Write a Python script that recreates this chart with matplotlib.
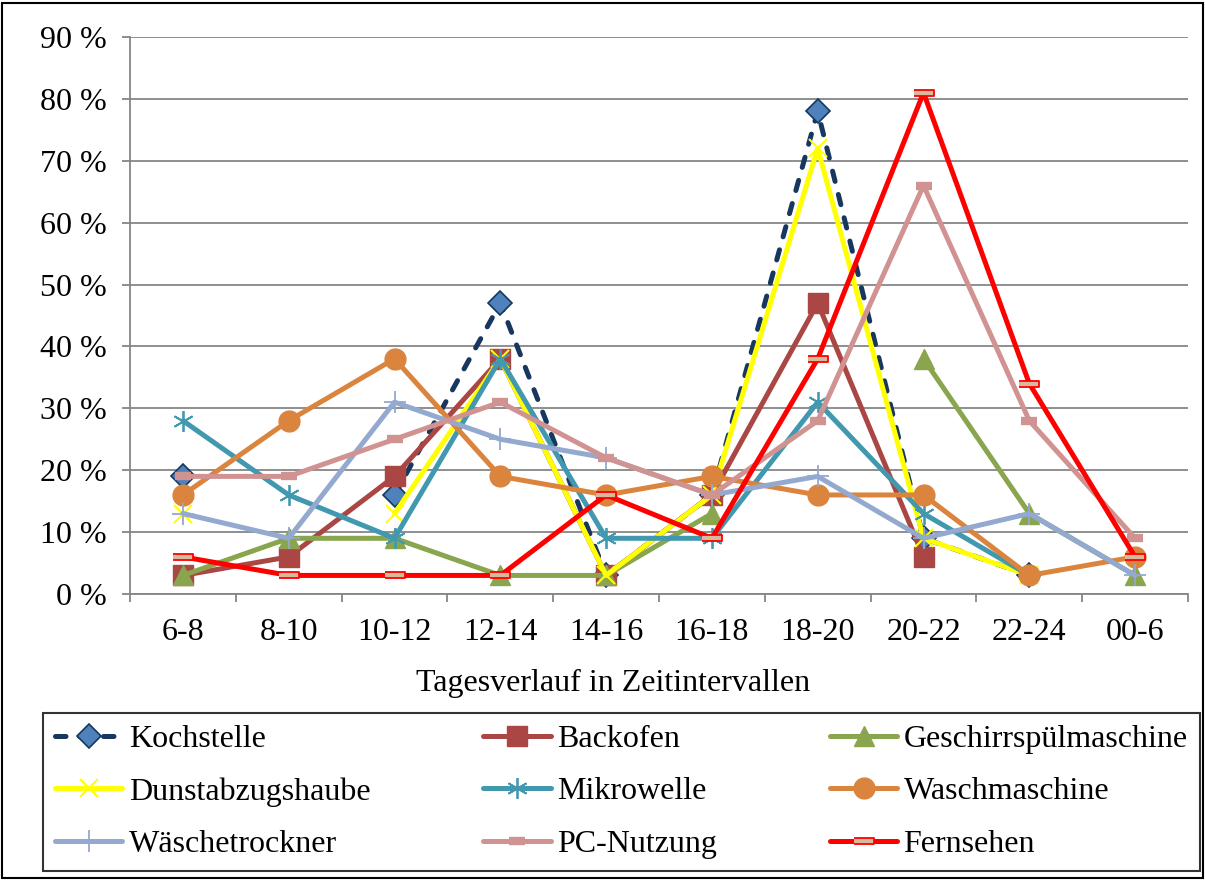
import matplotlib
matplotlib.use("Agg")
import matplotlib.pyplot as plt
import numpy as np
from matplotlib.patches import Rectangle

plt.rcParams['font.family'] = ['Liberation Serif', 'DejaVu Serif']

# time intervals and usage share in percent (NaN = no value)
intervals = ["6-8", "8-10", "10-12", "12-14", "14-16", "16-18", "18-20", "20-22", "22-24", "00-6"]
nan = np.nan
kochstelle = [19, nan, 16, 47, 3, 16, 78, 9, 3, nan]
backofen = [3, 6, 19, 38, 3, 16, 47, 6, nan, nan]
geschirr = [3, 9, 9, 3, 3, 13, nan, 38, 13, 3]
dunstabzug = [13, nan, 13, 38, 3, 16, 72, 9, 3, nan]
mikrowelle = [28, 16, 9, 38, 9, 9, 31, 13, 3, nan]
waschmaschine = [16, 28, 38, 19, 16, 19, 16, 16, 3, 6]
trockner = [13, 9, 31, 25, 22, 16, 19, 9, 13, 3]
pc = [19, 19, 25, 31, 22, 16, 28, 66, 28, 9]
fernsehen = [6, 3, 3, 3, 16, 9, 38, 81, 34, 6]
y_ticks = [0, 10, 20, 30, 40, 50, 60, 70, 80, 90]

grey = "#868686"
fs = 23
x = np.arange(len(intervals))
bar_marker = [(-1, -0.28), (1, -0.28), (1, 0.28), (-1, 0.28)]

fig = plt.figure(figsize=(12.05, 8.8), dpi=100)
ax = fig.add_axes([0.1079, 0.325, 0.878, 0.633])

lw = 3.6
h = {}
h['Kochstelle'] = ax.plot(x, kochstelle, color="#17375E", lw=lw, dashes=(2.1, 2.7),
                          dash_capstyle='round', marker='D', ms=12,
                          mfc="#4F81BD", mec="#17375E", mew=1.2, zorder=3)[0]
h['Backofen'] = ax.plot(x, backofen, color="#AA4643", lw=lw, marker='s', ms=14,
                        mfc="#AA4643", mec="#AA4643", zorder=4)[0]
h['Geschirrspülmaschine'] = ax.plot(x, geschirr, color="#89A54E", lw=lw, marker='^', ms=15,
                                    mfc="#89A54E", mec="#89A54E", zorder=5)[0]
h['Dunstabzugshaube'] = ax.plot(x, dunstabzug, color="#FFFF00", lw=lw, marker='x', ms=13,
                                mew=1.5, zorder=6)[0]
h['Mikrowelle'] = ax.plot(x, mikrowelle, color="#4198AF", lw=lw, marker=(6, 2, 0), ms=15,
                          mew=1.3, zorder=7)[0]
h['Waschmaschine'] = ax.plot(x, waschmaschine, color="#DB843D", lw=lw, marker='o', ms=15,
                             mfc="#DB843D", mec="#DB843D", zorder=8)[0]
h['Wäschetrockner'] = ax.plot(x, trockner, color="#93A9CF", lw=lw, marker='+', ms=16,
                              mew=1.3, zorder=9)[0]
h['PC-Nutzung'] = ax.plot(x, pc, color="#D19392", lw=lw, marker='_', ms=12,
                          mew=6, zorder=10)[0]
h['Fernsehen'] = ax.plot(x, fernsehen, color="#FF0000", lw=lw, marker=bar_marker, ms=14,
                         mfc="#D9B99B", mec="#FF0000", mew=1.3, zorder=11)[0]
for ln in h.values():
    ln.set_solid_joinstyle('round')
    ln.set_solid_capstyle('round')

ax.set_xlim(-0.5, len(intervals) - 0.5)
ax.set_ylim(0, 90)
ax.set_yticks(y_ticks)
ax.set_yticklabels([f"{v} %" for v in y_ticks])
ax.set_xticks(x)
ax.set_xticklabels(intervals)
ax.set_xticks(np.arange(-0.5, len(intervals)), minor=True)
ax.tick_params(axis='x', which='major', length=0, pad=17, labelsize=fs)
ax.tick_params(axis='x', which='minor', length=6, width=1.3, color=grey, direction='out')
ax.tick_params(axis='y', length=6, width=1.3, color=grey, pad=11, labelsize=fs)
ax.grid(axis='y', color=grey, lw=1.3, zorder=0)
ax.set_axisbelow(True)
for s in ['top', 'right']:
    ax.spines[s].set_visible(False)
for s in ['left', 'bottom']:
    ax.spines[s].set_color(grey)
    ax.spines[s].set_linewidth(1.3)
ax.set_xlabel("Tagesverlauf in Zeitintervallen", fontsize=fs)
ax.xaxis.set_label_coords(0.457, -0.135)

order = ['Kochstelle', 'Dunstabzugshaube', 'Wäschetrockner',
         'Backofen', 'Mikrowelle', 'PC-Nutzung',
         'Geschirrspülmaschine', 'Waschmaschine', 'Fernsehen']
leg = fig.legend([h[k] for k in order], order, ncol=3, loc='lower left',
                 bbox_to_anchor=(0.0357, 0.0102, 0.960, 0.178), mode='expand',
                 fontsize=fs, frameon=True, fancybox=False, edgecolor='black',
                 handlelength=2.1, handletextpad=0.2, labelspacing=0.72,
                 borderpad=0.38, borderaxespad=0)
leg.get_frame().set_linewidth(1.5)

fig.add_artist(Rectangle((0.002, 0.002), 0.996, 0.995, transform=fig.transFigure,
                         fill=False, edgecolor='black', lw=1.5))

fig.savefig("out.png", dpi=100)
